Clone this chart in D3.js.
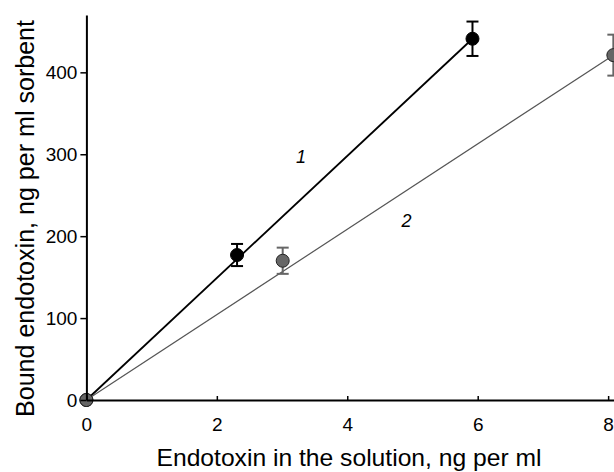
<!DOCTYPE html>
<html>
<head>
<meta charset="utf-8">
<script src="https://cdn.jsdelivr.net/npm/d3@7"></script>
<style>
  body { margin: 0; background: #fff; }
  svg { display: block; font-family: 'Liberation Sans', Arial, sans-serif; }
</style>
</head>
<body>
<div class="graph"><svg></svg></div>
<script>
// values
const xTicks = [0, 2, 4, 6, 8]
const yTicks = [0, 100, 200, 300, 400]

const series1X = [0, 2.31, 5.92]
const series1Y = [0, 177, 441]
const series1Err = [0, 13.5, 21]

const series2X = [0, 3.01, 8.08]
const series2Y = [0, 170, 421]
const series2Err = [0, 16, 25]

// fitted lines, start and end points
const fit1X = [0, 5.92]
const fit1Y = [0, 441]
const fit2X = [0, 8.08]
const fit2Y = [0, 421]

const labelNames = ['1', '2']
const labelX = [3.29, 4.91]
const labelY = [289, 211]

const width = 614
const height = 472

const svg = d3.select('.graph').select('svg')
  .attr('width', width)
  .attr('height', height)

const xScale = d3.scaleLinear().domain([0, 8.09]).range([86.4, 614])
const yScale = d3.scaleLinear().domain([0, 470]).range([400, 15])

/**
 * Draws the x axis, with ticks pointing up into the plot.
 */
function drawXAxis () {
  const g = svg.append('g')
    .attr('class', 'x axis')
    .attr('transform', 'translate(0,' + yScale(0) + ')')
    .call(d3.axisBottom(xScale)
      .tickValues(xTicks)
      .tickSizeInner(-4)
      .tickSizeOuter(0)
      .tickPadding(18))
  g.select('.domain').attr('stroke-width', 2)
  g.selectAll('.tick line').attr('stroke-width', 1.5)
  g.selectAll('.tick text')
    .attr('font-size', 19)
    .attr('font-family', 'Liberation Sans, Arial, sans-serif')
    .attr('fill', '#000')
}

/**
 * Draws the y axis at the left of the plot.
 */
function drawYAxis () {
  const g = svg.append('g')
    .attr('class', 'y axis')
    .attr('transform', 'translate(' + xScale(0) + ',0)')
    .call(d3.axisLeft(yScale)
      .tickValues(yTicks)
      .tickSizeInner(6)
      .tickSizeOuter(0)
      .tickPadding(3))
  g.select('.domain').attr('stroke-width', 2)
  g.selectAll('.tick line').attr('stroke-width', 1.5)
  g.selectAll('.tick text')
    .attr('font-size', 19)
    .attr('font-family', 'Liberation Sans, Arial, sans-serif')
    .attr('fill', '#000')
}

/**
 * Appends the axis titles.
 */
function appendGraphLabels () {
  svg.append('text')
    .text('Endotoxin in the solution, ng per ml')
    .attr('x', 349)
    .attr('y', 466)
    .attr('text-anchor', 'middle')
    .attr('font-size', 24)
    .attr('textLength', 385)
    .attr('lengthAdjust', 'spacingAndGlyphs')

  svg.append('text')
    .text('Bound endotoxin, ng per ml sorbent')
    .attr('transform', 'translate(34,218.5) rotate(-90)')
    .attr('text-anchor', 'middle')
    .attr('font-size', 25)
    .attr('textLength', 397)
    .attr('lengthAdjust', 'spacingAndGlyphs')
}

/**
 * Draws one series: fit line, error bars and markers.
 */
function drawSeries (xs, ys, errs, fx, fy, lineColor, lineWidth, fill, stroke, barColor) {
  const line = d3.line().x(d => xScale(d[0])).y(d => yScale(d[1]))
  svg.append('path')
    .attr('d', line(d3.zip(fx, fy)))
    .attr('fill', 'none')
    .attr('stroke', lineColor)
    .attr('stroke-width', lineWidth)

  const pts = d3.zip(xs, ys, errs)
  const bars = svg.append('g')
    .attr('stroke', barColor)
    .attr('stroke-width', 2)
  pts.filter(d => d[2] > 0).forEach(d => {
    const cx = xScale(d[0])
    const top = yScale(d[1] + d[2])
    const bot = yScale(d[1] - d[2])
    bars.append('line').attr('x1', cx).attr('x2', cx).attr('y1', top).attr('y2', bot)
    bars.append('line').attr('x1', cx - 6).attr('x2', cx + 6).attr('y1', top).attr('y2', top)
    bars.append('line').attr('x1', cx - 6).attr('x2', cx + 6).attr('y1', bot).attr('y2', bot)
  })

  svg.append('g')
    .selectAll('circle')
    .data(pts)
    .join('circle')
    .attr('cx', d => xScale(d[0]))
    .attr('cy', d => yScale(d[1]))
    .attr('r', 6.5)
    .attr('fill', fill)
    .attr('stroke', stroke)
    .attr('stroke-width', 1)
}

appendGraphLabels()

drawSeries(series1X, series1Y, series1Err, fit1X, fit1Y, '#000', 1.8, '#000', '#000', '#000')
drawSeries(series2X, series2Y, series2Err, fit2X, fit2Y, '#555', 1.2, '#666', '#222', '#666')

svg.append('g')
  .selectAll('text')
  .data(d3.zip(labelNames, labelX, labelY))
  .join('text')
  .text(d => d[0])
  .attr('x', d => xScale(d[1]))
  .attr('y', d => yScale(d[2]))
  .attr('text-anchor', 'middle')
  .attr('font-size', 18)
  .attr('font-style', 'italic')

drawXAxis()
drawYAxis()
</script>
</body>
</html>
